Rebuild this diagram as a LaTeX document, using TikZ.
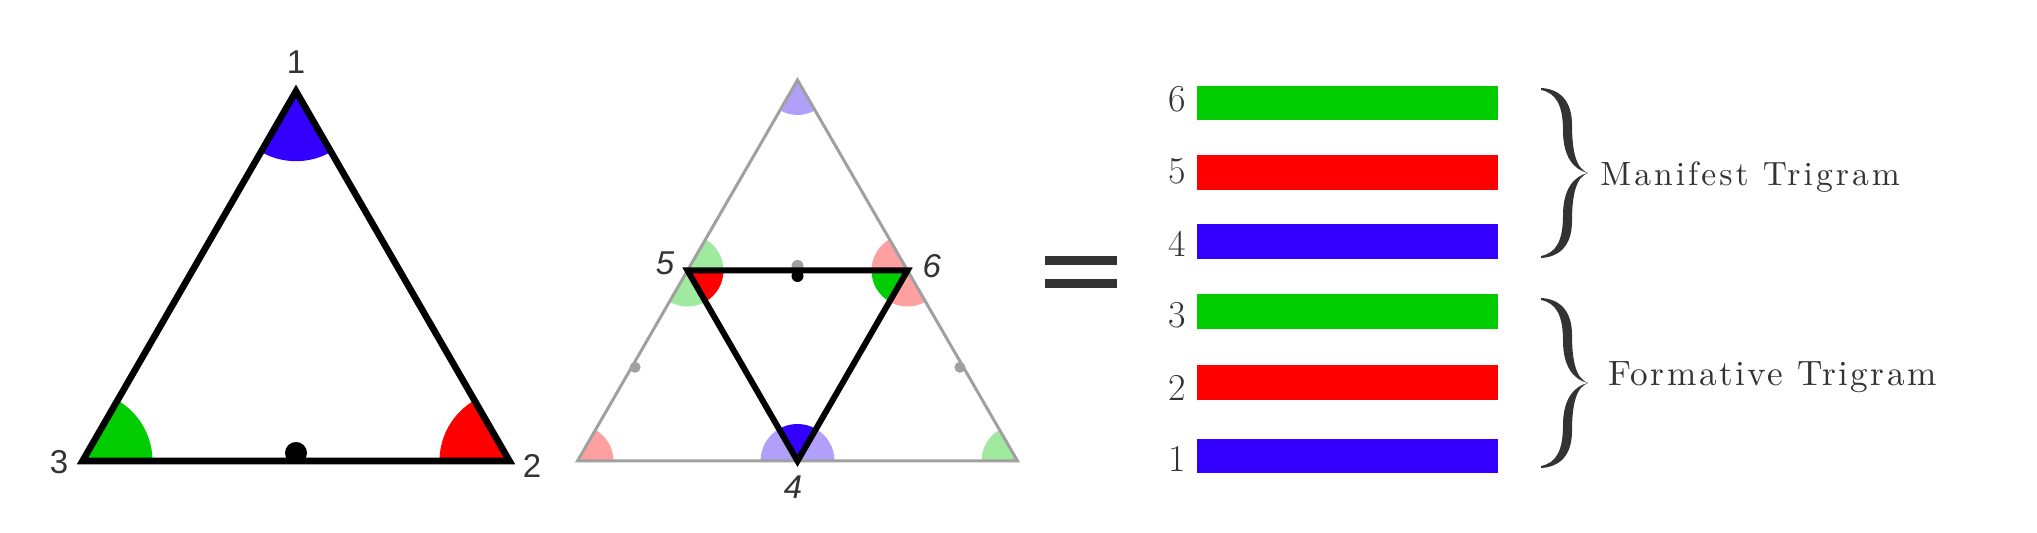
\documentclass[tikz,border=0pt]{standalone}
\usepackage{fontspec}
\newfontfamily\lsans{Liberation Sans}
\newfontfamily\ttlfontA{lmroman10-regular.otf}[LetterSpace=9]
\newfontfamily\ttlfontB{lmroman10-regular.otf}[LetterSpace=7]
\definecolor{cblue}{HTML}{3300FF}
\definecolor{cgreen}{HTML}{00CC00}
\definecolor{cred}{HTML}{FF0000}
\definecolor{lblue}{HTML}{B0A0FA}
\definecolor{lgreen}{HTML}{A0EAA0}
\definecolor{lred}{HTML}{FFA0A0}
\definecolor{tgray}{HTML}{333333}
\definecolor{sgray}{HTML}{A0A0A0}
\newcommand\angsec[5]{\fill[#1] (#2) -- ++(#3:#5) arc[start angle=#3,end angle=#4,radius=#5] -- cycle;}
\tikzset{
  lbl/.style={text=tgray, font=\lsans\fontsize{16.5pt}{19pt}\selectfont, inner sep=0pt},
  ilbl/.style={text=tgray, font=\lsans\itshape\fontsize{16.5pt}{19pt}\selectfont, inner sep=0pt},
  num/.style={text=tgray, font=\fontsize{19pt}{22pt}\selectfont, inner sep=0pt, anchor=base},
  ttl/.style={text=tgray, inner sep=0pt, anchor=base west},
  bigtri/.style={draw=black, line width=3.3pt, line join=miter},
  graytri/.style={draw=sgray, line width=1.5pt, line join=miter},
  innertri/.style={draw=black, line width=3pt, line join=miter},
  curlybrace/.pic={
    \fill[tgray] (-47,85) .. controls (-28,84) and (-16,72) .. (-16,48)
      .. controls (-16,22) and (-12,4) .. (0,0)
      .. controls (-14,3) and (-25,16) .. (-25,42)
      .. controls (-25,68) and (-32,80) .. (-47,83) -- cycle;
    \begin{scope}[yscale=-1]
    \fill[tgray] (-47,85) .. controls (-28,84) and (-16,72) .. (-16,48)
      .. controls (-16,22) and (-12,4) .. (0,0)
      .. controls (-14,3) and (-25,16) .. (-25,42)
      .. controls (-25,68) and (-32,80) .. (-47,83) -- cycle;
    \end{scope}
  }
}
\begin{document}
\begin{tikzpicture}[x=0.5pt,y=0.5pt]
\useasboundingbox (0,0) rectangle (2037,533);
% ---------- left triangle ----------
\coordinate (A1) at (296,441.8);
\coordinate (B3) at (82.5,72);
\coordinate (B2) at (509.5,72);
\angsec{cblue}{A1}{240}{300}{70}
\angsec{cgreen}{B3}{0}{60}{70}
\angsec{cred}{B2}{120}{180}{70}
\fill[black] (296,80) circle[radius=11];
\draw[bigtri] (A1) -- (B2) -- (B3) -- cycle;
\node[lbl] (l1) at (296,471) {1};
\node[lbl] (l3) at (59,71) {3};
\node[lbl] (l2) at (532,67) {2};
% ---------- middle triangle ----------
\coordinate (MA) at (797.5,453);
\coordinate (ML) at (577.5,72);
\coordinate (MR) at (1017.5,72);
\coordinate (P5) at (687.5,262.5);
\coordinate (P6) at (907.5,262.5);
\coordinate (P4) at (797.5,72);
\angsec{lblue}{MA}{240}{300}{35}
\angsec{lred}{ML}{0}{60}{36}
\angsec{lgreen}{MR}{120}{180}{36}
\angsec{lgreen}{P5}{0}{60}{36}
\angsec{cred}{P5}{300}{360}{36}
\angsec{lgreen}{P5}{240}{300}{36}
\angsec{lred}{P6}{120}{180}{36}
\angsec{cgreen}{P6}{180}{240}{36}
\angsec{lred}{P6}{240}{300}{36}
\angsec{lblue}{P4}{0}{60}{37}
\angsec{cblue}{P4}{60}{120}{37}
\angsec{lblue}{P4}{120}{180}{37}
\draw[graytri] (MA) -- (MR) -- (ML) -- cycle;
\fill[sgray] (635.1,165.7) circle[radius=5.5];
\fill[sgray] (959.9,165.7) circle[radius=5.5];
\fill[sgray] (797.5,267) circle[radius=6];
\draw[innertri] (P5) -- (P6) -- (P4) -- cycle;
\fill[black] (797.5,257) circle[radius=6];
\node[ilbl] (l5) at (665,270) {5};
\node[ilbl] (l6) at (931.7,267) {6};
\node[ilbl] (l4) at (793,46) {4};
% ---------- equals sign ----------
\fill[tgray] (1045,268) rectangle (1117,277);
\fill[tgray] (1045,245) rectangle (1117,254);
% ---------- bars ----------
\fill[cgreen] (1197,413) rectangle (1498,447);
\fill[cred]   (1197,343) rectangle (1498,378);
\fill[cblue]  (1197,274) rectangle (1498,309);
\fill[cgreen] (1197,204) rectangle (1498,239);
\fill[cred]   (1197,133) rectangle (1498,168);
\fill[cblue]  (1197,60)  rectangle (1498,94);
\node[num] (n6) at (1177,421.3) {6};
\node[num] (n5) at (1177,349) {5};
\node[num] (n4) at (1177,276.3) {4};
\node[num] (n3) at (1177,205) {3};
\node[num] (n2) at (1177,132.3) {2};
\node[num] (n1) at (1177,61.3) {1};
% ---------- braces and titles ----------
\pic at (1588,360) {curlybrace};
\pic at (1588,150) {curlybrace};
\node[ttl, font=\ttlfontA\fontsize{16.8pt}{20pt}\selectfont] (mt) at (1600,347) {Manifest Trigram};
\node[ttl, font=\ttlfontB\fontsize{17.6pt}{20pt}\selectfont] (ft) at (1608,147) {Formative Trigram};
\end{tikzpicture}
\end{document}
